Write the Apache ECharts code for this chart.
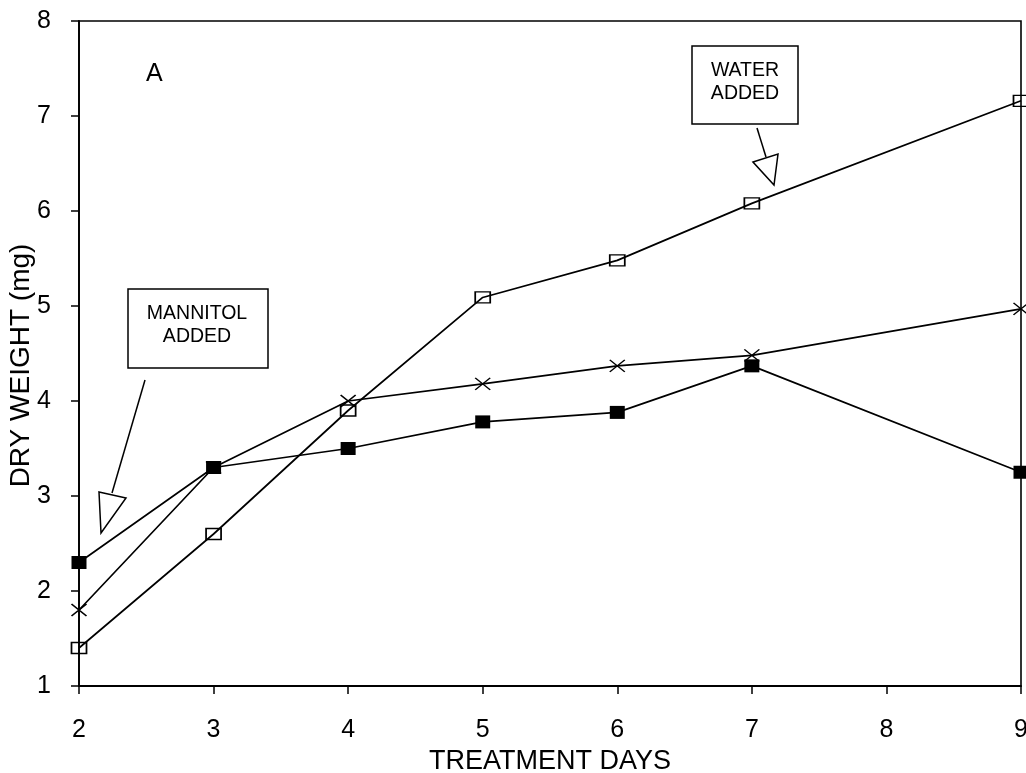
<!DOCTYPE html>
<html>
<head>
<meta charset="utf-8">
<script src="https://cdn.jsdelivr.net/npm/echarts@6/dist/echarts.min.js"></script>
<style>
  html, body { margin: 0; padding: 0; background: #fff; }
  #chart { width: 1026px; height: 773px; }
</style>
</head>
<body>
<div id="chart"></div>
<script>
// Treatment days sampled (no sample on day 8)
const days = [2, 3, 4, 5, 6, 7, 9];
// Dry weight (mg) for the three treatments
const openSquare = [1.4, 2.6, 3.9, 5.09, 5.48, 6.08, 7.16];
const crossMark = [1.8, 3.3, 4.0, 4.18, 4.37, 4.48, 4.97];
const filledSquare = [2.3, 3.3, 3.5, 3.78, 3.88, 4.37, 3.25];
// Axis tick values
const xTicks = [2, 3, 4, 5, 6, 7, 8, 9];
const yTicks = [1, 2, 3, 4, 5, 6, 7, 8];

const FONT = '"Liberation Sans", Arial, Helvetica, sans-serif';
const pairs = vals => days.map((d, i) => [d, vals[i]]);

const crossPath = 'path://M0,0L10,10M10,0L0,10';

const chart = echarts.init(document.getElementById('chart'), null, { renderer: 'canvas' });

const baseSeries = {
  type: 'line',
  lineStyle: { color: '#000', width: 1.7 },
  z: 3,
  animation: false
};

chart.setOption({
  backgroundColor: '#fff',
  animation: false,
  grid: {
    left: 79, right: 5, top: 21, bottom: 87,
    outerBoundsMode: 'none',
    containLabel: false,
    show: true, borderColor: '#000', borderWidth: 1.6
  },
  xAxis: {
    type: 'value',
    min: xTicks[0], max: xTicks[xTicks.length - 1], interval: 1,
    name: 'TREATMENT DAYS',
    nameLocation: 'middle',
    nameGap: 62,
    nameTextStyle: { fontFamily: FONT, fontSize: 27, color: '#000' },
    axisLine: { show: true, lineStyle: { color: '#000', width: 1.8 } },
    axisTick: { show: true, inside: false, length: 8, lineStyle: { color: '#000', width: 1.5 } },
    axisLabel: { fontFamily: FONT, fontSize: 25, color: '#000', margin: 32 },
    splitLine: { show: false }
  },
  yAxis: {
    type: 'value',
    min: yTicks[0], max: yTicks[yTicks.length - 1], interval: 1,
    name: 'DRY WEIGHT (mg)',
    nameLocation: 'middle',
    nameGap: 44,
    nameMoveOverlap: false,
    nameTextStyle: { fontFamily: FONT, fontSize: 28, color: '#000', padding: [0, 24, 0, 0] },
    axisLine: { show: true, lineStyle: { color: '#000', width: 1.8 } },
    axisTick: { show: true, inside: false, length: 8, lineStyle: { color: '#000', width: 1.5 } },
    axisLabel: { fontFamily: FONT, fontSize: 25, color: '#000', margin: 28 },
    splitLine: { show: false }
  },
  series: [
    Object.assign({}, baseSeries, {
      name: 'open',
      data: pairs(openSquare),
      symbol: 'rect',
      symbolSize: [15, 11],
      itemStyle: { color: 'rgba(0,0,0,0)', borderColor: '#000', borderWidth: 1.5 }
    }),
    Object.assign({}, baseSeries, {
      name: 'cross',
      data: pairs(crossMark),
      symbol: crossPath,
      symbolSize: [15, 12],
      itemStyle: { color: 'rgba(0,0,0,0)', borderColor: '#000', borderWidth: 1.5 }
    }),
    Object.assign({}, baseSeries, {
      name: 'filled',
      data: pairs(filledSquare),
      symbol: 'rect',
      symbolSize: [15, 13],
      itemStyle: { color: '#000', borderColor: '#000', borderWidth: 0 }
    })
  ],
  graphic: [
    // panel letter
    { type: 'text', left: 146, top: 62, style: { text: 'A', font: '25px ' + FONT, fill: '#000' } },
    // water note
    { type: 'rect', shape: { x: 692, y: 46, width: 106, height: 78 },
      style: { fill: '#fff', stroke: '#000', lineWidth: 1.5 } },
    { type: 'text', x: 745, y: 82, style: { text: 'WATER\nADDED', font: '19.5px ' + FONT, fill: '#000',
      align: 'center', verticalAlign: 'middle', lineHeight: 23 } },
    { type: 'line', shape: { x1: 757, y1: 128, x2: 766, y2: 157 }, style: { stroke: '#000', lineWidth: 1.5 } },
    { type: 'polygon', shape: { points: [[753, 162], [778, 154], [774, 185]] },
      style: { fill: '#fff', stroke: '#000', lineWidth: 1.5 } },
    // mannitol note
    { type: 'rect', shape: { x: 128, y: 289, width: 140, height: 79 },
      style: { fill: '#fff', stroke: '#000', lineWidth: 1.5 } },
    { type: 'text', x: 197, y: 325, style: { text: 'MANNITOL\nADDED', font: '19.5px ' + FONT, fill: '#000',
      align: 'center', verticalAlign: 'middle', lineHeight: 23 } },
    { type: 'line', shape: { x1: 145, y1: 380, x2: 112, y2: 493 }, style: { stroke: '#000', lineWidth: 1.5 } },
    { type: 'polygon', shape: { points: [[99, 492], [126, 498], [101, 533]] },
      style: { fill: '#fff', stroke: '#000', lineWidth: 1.5 } }
  ]
});
</script>
</body>
</html>
